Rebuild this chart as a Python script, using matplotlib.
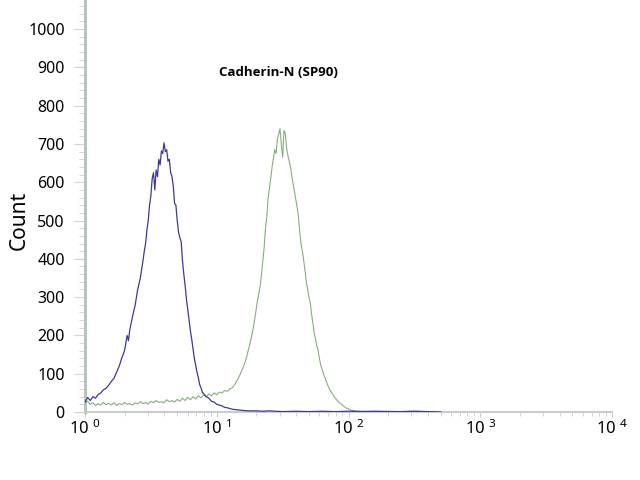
import matplotlib
matplotlib.use("Agg")
import matplotlib.pyplot as plt
import numpy as np
from matplotlib.ticker import FixedLocator, NullFormatter

# ---- data (x as log10 decade exponent, y as count) ----
blue_exp = [0.00, 0.02, 0.04, 0.06, 0.08, 0.10, 0.12, 0.14, 0.16, 0.18, 0.20, 0.22, 0.24, 0.26,
            0.28, 0.30, 0.32, 0.33, 0.34, 0.36, 0.38, 0.40, 0.42, 0.44, 0.45, 0.46, 0.47, 0.48,
            0.49, 0.50, 0.51, 0.52, 0.53, 0.54, 0.55, 0.56, 0.57, 0.58, 0.59, 0.60, 0.61, 0.62,
            0.63, 0.64, 0.65, 0.66, 0.67, 0.68, 0.69, 0.70, 0.71, 0.72, 0.73, 0.74, 0.75, 0.76,
            0.77, 0.78, 0.79, 0.80, 0.81, 0.82, 0.83, 0.84, 0.85, 0.86, 0.87, 0.88, 0.89, 0.90,
            0.92, 0.94, 0.96, 0.98, 1.00, 1.02, 1.04, 1.06, 1.08, 1.10, 1.12, 1.15, 1.20, 1.25,
            1.30, 1.35, 1.40, 1.50, 1.60, 1.70, 1.80, 1.90, 2.00, 2.10, 2.20, 2.30, 2.40, 2.50,
            2.60, 2.70]
blue_count = [25, 38, 30, 40, 36, 46, 50, 58, 62, 70, 80, 88, 104, 120,
              142, 160, 200, 186, 215, 248, 278, 320, 350, 395, 420, 440, 475, 500,
              540, 565, 610, 625, 580, 632, 615, 660, 645, 682, 675, 703, 680, 685,
              655, 660, 625, 615, 590, 545, 540, 500, 470, 455, 445, 395, 360, 330,
              295, 268, 240, 212, 190, 165, 140, 122, 104, 90, 72, 64, 52, 48,
              40, 36, 28, 26, 20, 18, 16, 12, 11, 9, 7, 6, 4, 3,
              3, 2, 3, 1, 2, 1, 2, 1, 2, 1, 2, 1, 1, 2,
              1, 0]

green_exp = [0.00, 0.01, 0.02, 0.04, 0.06, 0.08, 0.10, 0.12, 0.14, 0.16, 0.18, 0.20, 0.22, 0.24,
             0.26, 0.28, 0.30, 0.32, 0.34, 0.36, 0.38, 0.40, 0.42, 0.44, 0.46, 0.48, 0.50, 0.52,
             0.54, 0.56, 0.58, 0.60, 0.62, 0.64, 0.66, 0.68, 0.70, 0.72, 0.74, 0.76, 0.78, 0.80,
             0.82, 0.84, 0.86, 0.88, 0.90, 0.92, 0.94, 0.96, 0.98, 1.00, 1.02, 1.04, 1.06, 1.08,
             1.10, 1.12, 1.14, 1.16, 1.18, 1.20, 1.22, 1.24, 1.26, 1.28, 1.30, 1.31, 1.32, 1.33,
             1.34, 1.35, 1.36, 1.37, 1.38, 1.39, 1.40, 1.41, 1.42, 1.43, 1.44, 1.45, 1.46, 1.47,
             1.48, 1.49, 1.50, 1.51, 1.52, 1.53, 1.54, 1.55, 1.56, 1.57, 1.58, 1.59, 1.60, 1.61,
             1.62, 1.63, 1.64, 1.65, 1.66, 1.67, 1.68, 1.69, 1.70, 1.71, 1.72, 1.73, 1.74, 1.75,
             1.76, 1.77, 1.78, 1.79, 1.80, 1.82, 1.84, 1.86, 1.88, 1.90, 1.92, 1.94, 1.96, 1.98,
             2.00, 2.02, 2.05, 2.10, 2.20, 2.30, 2.40, 2.50, 2.60, 2.70]
green_count = [32, 26, 28, 20, 24, 17, 22, 18, 25, 19, 23, 18, 24, 17,
               22, 19, 25, 20, 22, 18, 24, 21, 27, 22, 25, 21, 28, 24,
               30, 25, 27, 24, 32, 27, 30, 26, 33, 28, 36, 30, 38, 32,
               40, 34, 42, 37, 44, 40, 47, 42, 50, 45, 52, 50, 56, 54,
               60, 64, 74, 86, 100, 116, 135, 162, 190, 225, 270, 292, 310, 330,
               360, 395, 430, 480, 510, 560, 585, 610, 640, 662, 685, 675, 712, 725,
               740, 700, 665, 735, 728, 690, 670, 655, 640, 615, 595, 575, 555, 535,
               510, 470, 440, 420, 395, 370, 340, 320, 300, 285, 255, 232, 205, 190,
               172, 160, 138, 122, 110, 90, 72, 57, 46, 36, 28, 22, 16, 11,
               8, 5, 3, 2, 1, 2, 1, 2, 1, 0]

y_ticks = [0, 100, 200, 300, 400, 500, 600, 700, 800, 900, 1000]
x_decades = [0, 1, 2, 3, 4]
title_text = "Cadherin-N (SP90)"
y_label = "Count"

# ---- figure ----
plt.rcParams['font.family'] = ['Noto Sans', 'DejaVu Sans']
plt.rcParams['mathtext.fontset'] = 'custom'
plt.rcParams['mathtext.rm'] = 'Noto Sans'

fig = plt.figure(figsize=(6.4, 4.8), dpi=100)
ax = fig.add_axes([85/640, 68/480, 527/640, 412/480])

bx = np.power(10.0, blue_exp)
gx = np.power(10.0, green_exp)
ax.plot(gx, green_count, color='#88ad7e', lw=0.8, zorder=3)
ax.plot(bx, blue_count, color='#3a3a9c', lw=0.9, zorder=4)

ax.set_xscale('log')
ax.set_xlim(1, 10**4)
ax.set_ylim(0, 1076)

for s in ['top', 'right']:
    ax.spines[s].set_visible(False)
ax.spines['left'].set_color('#b4c6bc')
ax.spines['left'].set_linewidth(2.2)
ax.spines['bottom'].set_color('#c8cccc')
ax.spines['bottom'].set_linewidth(1.5)

ax.yaxis.set_major_locator(FixedLocator(y_ticks))
ax.yaxis.set_minor_locator(FixedLocator(list(range(0, 1080, 20))))
ax.tick_params(axis='y', which='major', length=8, width=0.8, color='#d6d0d0',
               labelsize=11.5, pad=6.5, labelcolor='black')
ax.tick_params(axis='y', which='minor', length=4, width=0.7, color='#dcd4d4')

ax.xaxis.set_major_locator(FixedLocator([10.0**d for d in x_decades]))
ax.set_xticklabels([r'$\mathregular{10^{\ %d}}$' % d for d in x_decades])
minor_x = [m * 10.0**d for d in x_decades[:-1] for m in range(2, 10)]
ax.xaxis.set_minor_locator(FixedLocator(minor_x))
ax.xaxis.set_minor_formatter(NullFormatter())
ax.tick_params(axis='x', which='major', length=3.6, width=0.8, color='#cccccc',
               labelsize=12, pad=2)
ax.tick_params(axis='x', which='minor', length=3, width=0.7, color='#d4d4d4')

fig.text(19/640, 1 - 220/480, y_label, rotation=90, fontsize=15,
         ha='center', va='center')
fig.text(219/640, 1 - 72/480, title_text, fontsize=9.5, fontweight='bold',
         family=['Open Sans', 'DejaVu Sans'], ha='left', va='center')

fig.savefig('out.png', dpi=100)
